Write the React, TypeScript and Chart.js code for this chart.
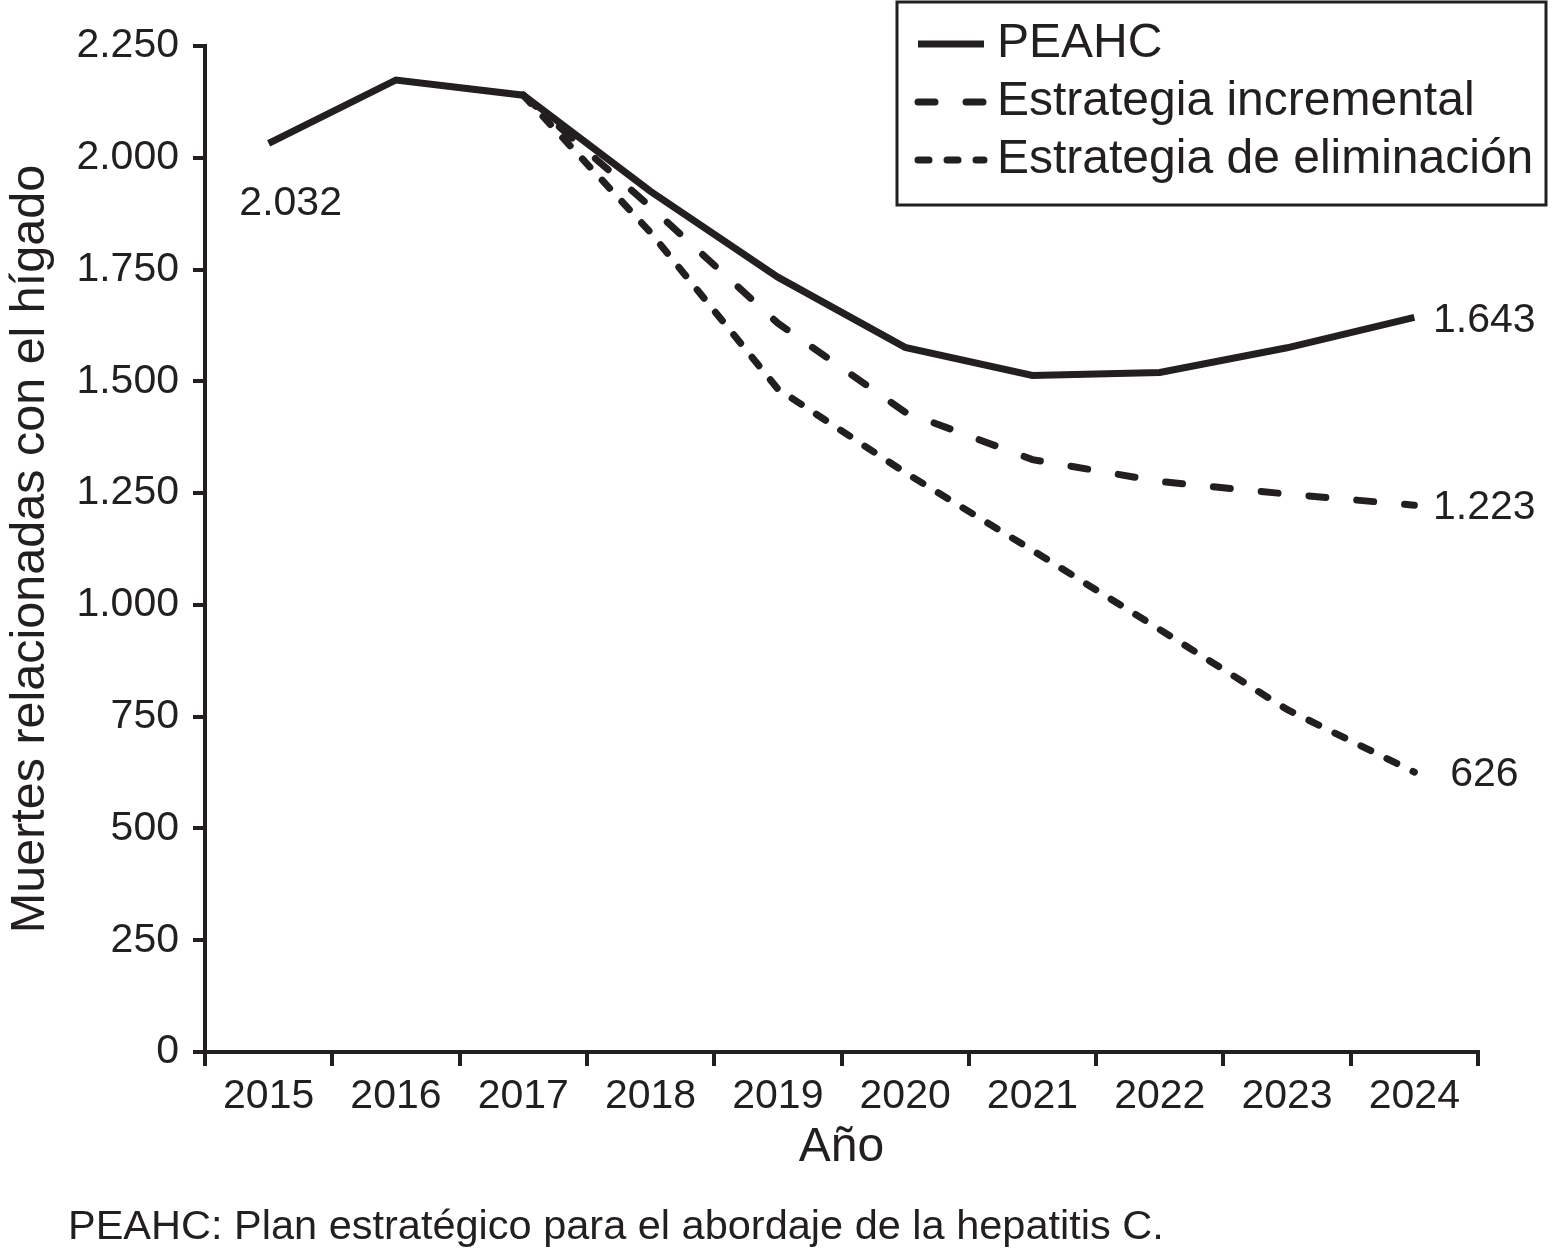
import React, { useEffect, useRef } from "react";
import { Chart, registerables } from "chart.js";

Chart.register(...registerables);

// ---------- data ----------
const years = ["2015", "2016", "2017", "2018", "2019", "2020", "2021", "2022", "2023", "2024"];
const peahc = [2032, 2174, 2140, 1925, 1733, 1576, 1513, 1520, 1575, 1643];
const incremental = [null, null, 2140, 1890, 1630, 1431, 1325, 1276, 1248, 1223];
const eliminacion = [null, null, 2140, 1833, 1483, 1296, 1122, 945, 766, 626];
const seriesNames = ["PEAHC", "Estrategia incremental", "Estrategia de eliminación"];
const yMin = 0;
const yMax = 2250;
const yStep = 250;
const yAxisTitle = "Muertes relacionadas con el hígado";
const xAxisTitle = "Año";
const footnote = "PEAHC: Plan estratégico para el abordaje de la hepatitis C.";

// ---------- style ----------
const INK = "#231f20";
const FONT = "'Liberation Sans', Arial, Helvetica, sans-serif";

function fmt(n: number): string {
  return String(n).replace(/\B(?=(\d{3})+(?!\d))/g, ".");
}

const valueLabels = {
  id: "valueLabels",
  afterDatasetsDraw(chart: any) {
    const ctx = chart.ctx;
    ctx.save();
    ctx.font = `41px ${FONT}`;
    ctx.fillStyle = INK;
    ctx.textAlign = "center";
    ctx.textBaseline = "middle";
    chart.data.datasets.forEach((ds: any, i: number) => {
      const meta = chart.getDatasetMeta(i);
      const data = ds.data as (number | null)[];
      const last = data.length - 1;
      const pt = meta.data[last];
      if (data[last] != null) ctx.fillText(fmt(data[last] as number), pt.x + 70, pt.y + 3);
      if (i === 0) {
        const p0 = meta.data[0];
        ctx.fillText(fmt(data[0] as number), p0.x + 22, p0.y + 60);
      }
    });
    ctx.restore();
  },
};

const boxedLegend = {
  id: "boxedLegend",
  afterDraw(chart: any) {
    const ctx = chart.ctx;
    const W = chart.width;
    const H = chart.height;
    ctx.save();
    const left = 897;
    const top = 2;
    const right = W - 9;
    const bottom = 205;
    ctx.fillStyle = "#ffffff";
    ctx.fillRect(left, top, right - left, bottom - top);
    ctx.strokeStyle = INK;
    ctx.lineWidth = 3;
    ctx.strokeRect(left, top, right - left, bottom - top);
    chart.data.datasets.forEach((ds: any, i: number) => {
      const y = 44 + i * 58;
      ctx.save();
      ctx.strokeStyle = ds.borderColor;
      ctx.lineWidth = ds.borderWidth;
      ctx.lineCap = ds.borderCapStyle || "butt";
      ctx.setLineDash(ds.borderDash || []);
      ctx.beginPath();
      ctx.moveTo(918, y);
      ctx.lineTo(984, y);
      ctx.stroke();
      ctx.restore();
      ctx.fillStyle = INK;
      ctx.font = `48px ${FONT}`;
      ctx.textAlign = "left";
      ctx.textBaseline = "middle";
      ctx.fillText(ds.label, 997, y);
    });
    ctx.fillStyle = INK;
    ctx.font = `41.5px ${FONT}`;
    ctx.textAlign = "left";
    ctx.textBaseline = "middle";
    ctx.fillText(footnote, 68, H - 27);
    ctx.restore();
  },
};

export default function App() {
  const canvasRef = useRef<HTMLCanvasElement | null>(null);

  useEffect(() => {
    if (!canvasRef.current) return;
    const chart = new Chart(canvasRef.current, {
      type: "line",
      data: {
        labels: years,
        datasets: [
          {
            label: seriesNames[0],
            data: peahc,
            borderColor: INK,
            borderWidth: 7,
            borderCapStyle: "butt",
            borderJoinStyle: "miter",
            pointRadius: 0,
            tension: 0,
            fill: false,
          },
          {
            label: seriesNames[1],
            data: incremental,
            borderColor: INK,
            borderWidth: 7,
            borderDash: [17, 31],
            borderCapStyle: "round",
            pointRadius: 0,
            tension: 0,
            fill: false,
          },
          {
            label: seriesNames[2],
            data: eliminacion,
            borderColor: INK,
            borderWidth: 7,
            borderDash: [11, 18],
            borderCapStyle: "round",
            pointRadius: 0,
            tension: 0,
            fill: false,
          },
        ],
      },
      options: {
        responsive: false,
        animation: false,
        layout: { padding: { left: 0, right: 77, top: 46, bottom: 78 } },
        plugins: {
          legend: { display: false },
          tooltip: { enabled: false },
        },
        scales: {
          x: {
            type: "category",
            offset: true,
            grid: {
              offset: true,
              drawOnChartArea: false,
              drawTicks: true,
              tickLength: 14,
              lineWidth: 4,
              color: INK,
            },
            border: { display: true, color: INK, width: 4 },
            ticks: {
              color: INK,
              font: { family: FONT, size: 41, lineHeight: 1.2 },
              padding: 6,
              maxRotation: 0,
              autoSkip: false,
            },
            title: {
              display: true,
              text: xAxisTitle,
              color: INK,
              font: { family: FONT, size: 48, lineHeight: 1.2 },
              padding: 0,
            },
            afterFit: (scale: any) => {
              scale.height = 125;
            },
          },
          y: {
            min: yMin,
            max: yMax,
            grid: {
              drawOnChartArea: false,
              drawTicks: true,
              tickLength: 12,
              lineWidth: 4,
              color: INK,
            },
            border: { display: true, color: INK, width: 4 },
            ticks: {
              stepSize: yStep,
              color: INK,
              font: { family: FONT, size: 41 },
              padding: 14,
              callback: (v: any) => fmt(Number(v)),
            },
            title: {
              display: true,
              text: yAxisTitle,
              color: INK,
              font: { family: FONT, size: 48.5, lineHeight: 1 },
              padding: { top: 6, bottom: 0 },
            },
            afterFit: (scale: any) => {
              scale.width = 205;
            },
          },
        },
      },
      plugins: [valueLabels, boxedLegend],
    } as any);
    return () => chart.destroy();
  }, []);

  return (
    <div style={{ position: "absolute", left: 0, top: 0, width: 1555, height: 1255, background: "#ffffff" }}>
      <canvas ref={canvasRef} width={1555} height={1255} style={{ display: "block" }} />
    </div>
  );
}
